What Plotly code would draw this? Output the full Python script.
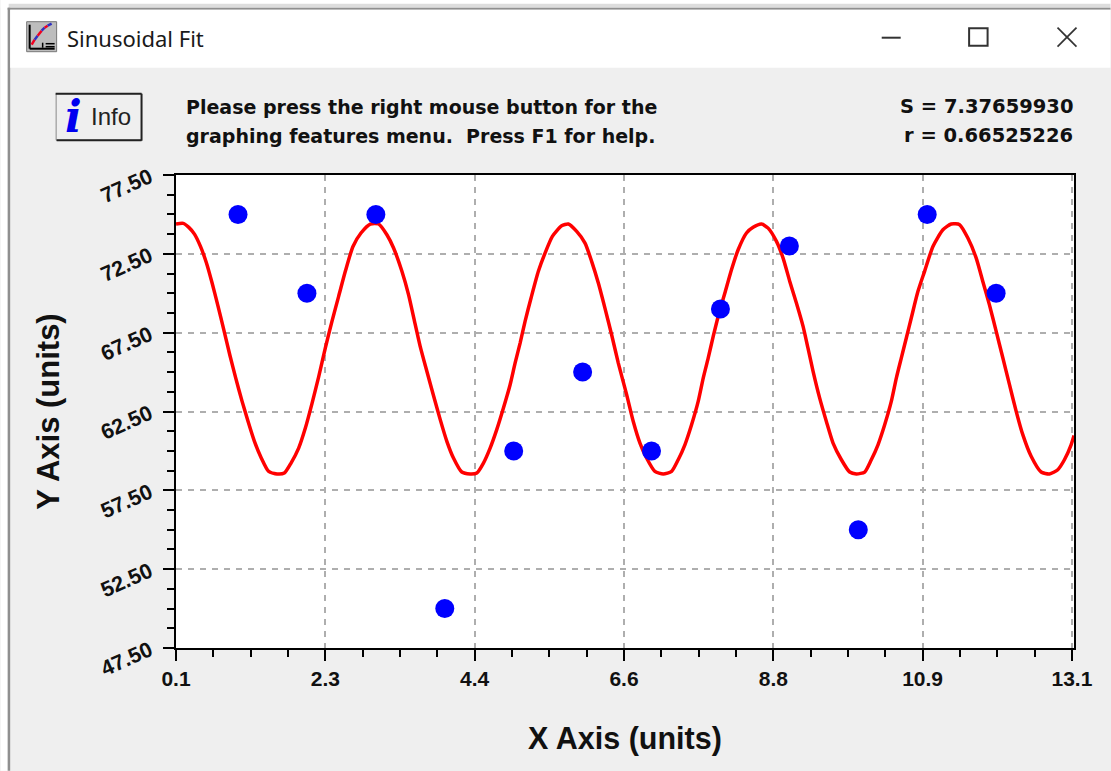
import plotly.graph_objects as go

# Values
x_points = [1, 2, 3, 4, 5, 6, 7, 8, 9, 10, 11, 12]
y_points = [75, 70, 75, 50, 60, 65, 60, 69, 73, 55, 75, 70]

x_fit = [0.10, 0.204, 0.286, 0.368, 0.455, 0.542, 0.624, 0.706, 0.793, 0.880, 0.967, 1.059, 1.146, 1.238, 1.334,
         1.445, 1.566, 1.672, 1.769, 1.880, 1.977, 2.073, 2.170, 2.267, 2.363, 2.460, 2.557, 2.668, 2.784, 2.919,
         3.040, 3.160, 3.257, 3.378, 3.474, 3.561, 3.643, 3.740, 3.837, 3.933, 4.030, 4.126, 4.247, 4.368, 4.465,
         4.561, 4.658, 4.754, 4.851, 4.948, 5.020, 5.093, 5.165, 5.252, 5.358, 5.455, 5.561, 5.696, 5.793, 5.914,
         6.035, 6.131, 6.228, 6.324, 6.421, 6.518, 6.639, 6.735, 6.832, 6.928, 7.049, 7.170, 7.291, 7.387, 7.484,
         7.581, 7.677, 7.750, 7.822, 7.895, 7.967, 8.064, 8.160, 8.257, 8.378, 8.474, 8.595, 8.692, 8.813, 8.909,
         9.006, 9.102, 9.199, 9.271, 9.344, 9.440, 9.537, 9.634, 9.755, 9.875, 9.972, 10.093, 10.189, 10.286,
         10.383, 10.479, 10.552, 10.624, 10.697, 10.769, 10.866, 10.962, 11.083, 11.228, 11.349, 11.470, 11.590,
         11.711, 11.807, 11.904, 12.001, 12.098, 12.194, 12.291, 12.387, 12.508, 12.653, 12.774, 12.895, 12.991,
         13.088, 13.13]
y_fit = [74.39, 74.43, 74.18, 73.75, 72.97, 71.92, 70.65, 69.25, 67.69, 66.10, 64.62, 63.14, 61.87, 60.61, 59.59,
         58.70, 58.54, 58.60, 59.23, 60.18, 61.45, 63.00, 64.70, 66.53, 68.22, 69.80, 71.39, 72.97, 73.82, 74.39,
         74.39, 73.71, 72.87, 71.39, 69.91, 68.22, 66.63, 65.05, 63.50, 62.00, 60.61, 59.55, 58.66, 58.54, 58.60,
         59.23, 60.18, 61.35, 62.72, 64.20, 65.57, 66.84, 68.22, 69.70, 71.39, 72.55, 73.61, 74.28, 74.39, 73.92,
         73.18, 72.02, 70.65, 69.06, 67.37, 65.57, 63.57, 61.87, 60.50, 59.55, 58.70, 58.54, 58.70, 59.44, 60.39,
         61.66, 63.14, 64.62, 65.89, 67.26, 68.53, 70.01, 71.49, 72.76, 73.82, 74.18, 74.39, 74.13, 73.29, 72.23,
         70.75, 69.38, 67.90, 66.50, 65.05, 63.35, 61.87, 60.50, 59.44, 58.66, 58.54, 58.66, 59.44, 60.39,
         61.66, 63.14, 64.62, 65.89, 67.16, 68.43, 70.12, 71.39, 72.97, 74.03, 74.39, 74.35, 73.50,
         72.23, 70.75, 69.25, 67.58, 65.89, 64.20, 62.51, 61.03, 59.66, 58.66, 58.54, 58.81, 59.44,
         60.39, 60.98]

x_tick_vals = [0.1, 2.2667, 4.4333, 6.6, 8.7667, 10.9333, 13.1]
x_tick_text = ["0.1", "2.3", "4.4", "6.6", "8.8", "10.9", "13.1"]
y_tick_vals = [47.5, 52.5, 57.5, 62.5, 67.5, 72.5, 77.5]
y_tick_text = ["47.50", "52.50", "57.50", "62.50", "67.50", "72.50", "77.50"]

W, H = 1111, 771
L, R, T, B = 175.5, 1074.5, 175.3, 648.3
BODY = "#EFEFEF"
SANS = "Liberation Sans"
BITMAP = "DejaVu Sans"


def px(x):
    return (x - L) / (R - L)


def py(y):
    return (B - y) / (B - T)


def rect(x0, y0, x1, y1, fill=None, line=None, width=0):
    return dict(type="rect", xref="paper", yref="paper", x0=px(x0), x1=px(x1), y0=py(y0), y1=py(y1),
                fillcolor=fill or "rgba(0,0,0,0)", line=dict(color=line or "rgba(0,0,0,0)", width=width), layer="below")


def seg(x0, y0, x1, y1, color, width):
    return dict(type="line", xref="paper", yref="paper", x0=px(x0), x1=px(x1), y0=py(y0), y1=py(y1),
                line=dict(color=color, width=width), layer="below")


def label(text, x, y, size, color="#111111", family=SANS, anchor="left"):
    return dict(text=text, x=px(x), y=py(y), xref="paper", yref="paper", showarrow=False, xanchor=anchor,
                yanchor="middle", borderpad=0, font=dict(family=family, size=size, color=color))


shapes = [
    rect(0, 0, 1111, 8, "#FFFFFF"),
    rect(8, 4, 1111, 8, "#DDDDDD"),
    rect(0, 0, 7, 771, "#FFFFFF"),
    rect(7, 8, 9.5, 771, "#8F8F8F"),
    rect(7, 8, 1111, 10, "#8F8F8F"),
    rect(9.5, 10, 1111, 68, "#FFFFFF"),
    # window icon
    rect(26, 22, 56, 52, "#BDBDBD", "#777777", 1),
    seg(29, 25, 29, 49, "#000000", 2),
    seg(29, 49, 54, 49, "#000000", 2),
    seg(31, 45, 34, 40, "#F00020", 2.5),
    seg(34, 40, 37, 36, "#3030C0", 2.5),
    seg(37, 36, 41, 31, "#F00020", 2.5),
    seg(41, 31, 44, 28, "#3030C0", 2.5),
    seg(44, 28, 47, 26, "#F00020", 2.5),
    seg(47, 26, 51, 24, "#3030C0", 2.5),
    seg(42, 43, 42, 48, "#000000", 1.5),
    seg(45, 44, 54, 44, "#000000", 1.5),
    seg(45, 47, 54, 47, "#000000", 1.5),
    # window buttons
    seg(882, 38, 901, 38, "#333333", 2),
    rect(969.5, 28.5, 988, 46, None, "#333333", 2),
    seg(1058, 28, 1077, 47, "#333333", 1.7),
    seg(1058, 47, 1077, 28, "#333333", 1.7),
    # info button
    rect(55.5, 94, 141, 140.5, BODY, "#888888", 1),
    seg(55, 94, 141, 94, "#222222", 2),
    seg(141, 94, 141, 141, "#222222", 2),
    seg(56, 140.5, 141, 140.5, "#222222", 2),
    # the reference has no dashed grid line at the last x label
    dict(type="rect", xref="x", yref="paper", x0=13.08, x1=13.12, y0=0.005, y1=0.995,
         fillcolor="#FFFFFF", line=dict(width=0), layer="between"),
]

annotations = [
    label("Sinusoidal Fit", 65, 38, 22, "#1A1A1A", "Noto Sans"),
    label("Info", 89, 117, 24, "#222222"),
    label("<b><i>i</i></b>", 63, 117, 44, "#0000F0", "DejaVu Serif"),
    label("<b>Please press the right mouse button for the</b>", 185, 107, 19, family=BITMAP),
    label("<b>graphing features menu.\u00a0\u00a0Press F1 for help.</b>", 185, 136, 19, family=BITMAP),
    label("<b>S = 7.37659930</b>", 1074, 107, 19.5, anchor="right", family=BITMAP),
    label("<b>r = 0.66525226</b>", 1074, 136, 19.5, anchor="right", family=BITMAP),
]

fig = go.Figure()
fig.add_trace(go.Scatter(x=x_fit, y=y_fit, mode="lines",
                         line=dict(color="#FF0000", width=3.5, shape="spline", smoothing=0.6), showlegend=False))
fig.add_trace(go.Scatter(x=x_points, y=y_points, mode="markers", marker=dict(color="#0000FF", size=19),
                         showlegend=False))

axis_common = dict(
    showline=True, mirror=True, linecolor="#000000", linewidth=2, zeroline=False,
    showgrid=True, gridcolor="#AEAEAE", griddash="6px,6px", gridwidth=1.5,
    ticks="outside", ticklen=11, tickwidth=2, tickcolor="#000000",
)
fig.update_layout(
    width=W, height=H, autosize=False,
    margin=dict(l=L, r=W - R, t=T, b=H - B, pad=0),
    paper_bgcolor=BODY, plot_bgcolor="#FFFFFF",
    showlegend=False,
    shapes=shapes, annotations=annotations,
    xaxis=dict(
        range=[0.1, 13.13], tickmode="array", tickvals=x_tick_vals, ticktext=x_tick_text,
        tickfont=dict(family=SANS, size=21, color="#111111", weight="bold"),
        minor=dict(tick0=0.1, dtick=13 / 24, ticks="outside", ticklen=7, tickwidth=2, tickcolor="#000000", showgrid=False),
        title=dict(text="<b>X Axis (units)</b>", font=dict(family=SANS, size=30.5, color="#111111"), standoff=38),
        **axis_common,
    ),
    yaxis=dict(
        range=[47.5, 77.5], tickmode="array", tickvals=y_tick_vals, ticktext=y_tick_text, tickangle=-24,
        tickfont=dict(family=SANS, size=21.5, color="#111111", weight="bold"),
        minor=dict(tick0=47.5, dtick=1.25, ticks="outside", ticklen=7, tickwidth=2, tickcolor="#000000", showgrid=False),
        title=dict(text="<b>Y Axis (units)</b>", font=dict(family=SANS, size=31, color="#111111"), standoff=28),
        ticklabelstandoff=9,
        **axis_common,
    ),
)

fig.write_html("out.html", config=dict(displayModeBar=False),
               post_script="document.body.style.margin='0';document.body.style.overflow='hidden';")
